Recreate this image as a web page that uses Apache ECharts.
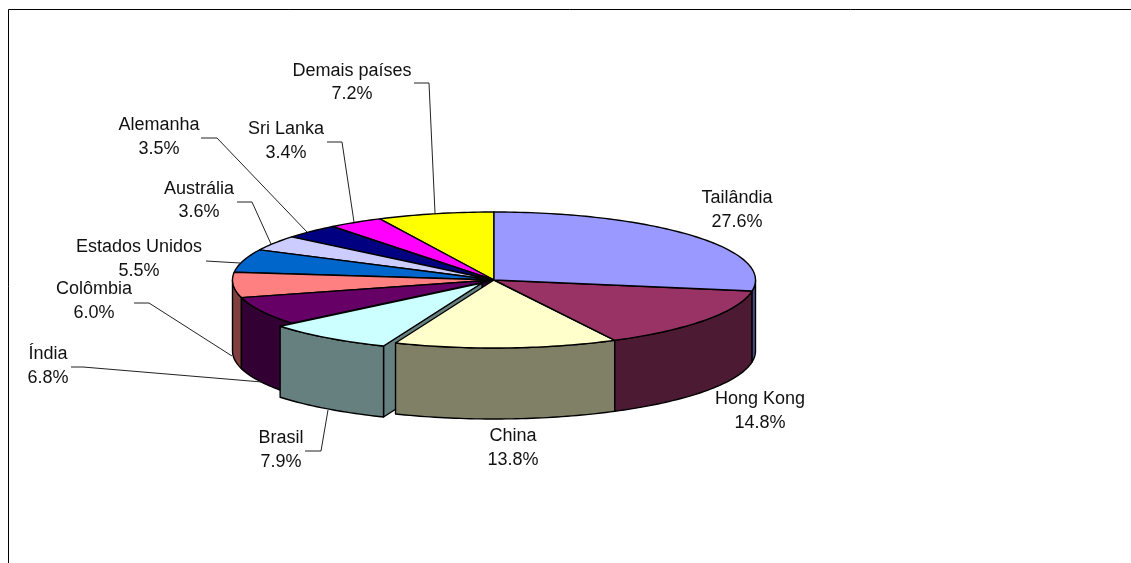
<!DOCTYPE html>
<html>
<head>
<meta charset="utf-8">
<title>Pie</title>
<script src="https://cdn.jsdelivr.net/npm/echarts@6/dist/echarts.min.js"></script>
<style>
html, body { margin: 0; padding: 0; background: #fff; }
#main { width: 1131px; height: 563px; }
</style>
</head>
<body>
<div id="main"></div>
<script>
var countries = ['Tailândia', 'Hong Kong', 'China', 'Brasil', 'Índia', 'Colômbia', 'Estados Unidos', 'Austrália', 'Alemanha', 'Sri Lanka', 'Demais países'];
var shares = [27.6, 14.8, 13.8, 7.9, 6.8, 6.0, 5.5, 3.6, 3.5, 3.4, 7.2];
var topColors = ['#9999FF', '#993366', '#FFFFCC', '#CCFFFF', '#660066', '#FF8080', '#0066CC', '#CCCCFF', '#000080', '#FF00FF', '#FFFF00'];
var wallColors = ['#4D4D80', '#4D1A33', '#808066', '#668080', '#330033', '#804040', '#003366', '#666680', '#000040', '#800080', '#808000'];

// pie geometry
var cx = 494, cy = 280, rx = 261.5, ry = 68, depth = 71;
var explodedIdx = 3, explodeX = -12, explodeY = 3;
// back slices first, exploded one before its front neighbours
var drawOrder = [10, 9, 8, 7, 6, 5, 4, 3, 2, 1, 0];

// label centre x, first line y, second line y
var labelPos = [
	[737, 198, 222], [760, 399, 423], [513, 436, 460], [281, 438, 462],
	[48, 354, 378], [94, 289, 313], [139, 247, 271], [199, 189, 212],
	[159, 125, 149], [286, 129, 153], [352, 71, 94]
];
var leaders = [
	null, null, null,
	[[305, 451], [321, 451], [328, 410]],
	[[71, 367], [83, 367], [262, 382]],
	[[134, 303], [149, 303], [232, 356]],
	[[206, 261], [240, 263]],
	[[237, 202], [252, 202], [271, 244]],
	[[201, 138], [217, 138], [307, 232]],
	[[327, 142], [342, 142], [354, 222]],
	[[414, 83], [429, 83], [435, 213]]
];

var total = 0;
for (var i = 0; i < shares.length; i++) total += shares[i];

var startT = [], cum = 0;
for (var i = 0; i < shares.length; i++) {
	startT.push(cum / total * Math.PI * 2);
	cum += shares[i];
}

function pt(t, ox, oy) {
	return [cx + ox + rx * Math.sin(t), cy + oy - ry * Math.cos(t)];
}

function arcPoints(t1, t2, ox, oy, dy) {
	var pts = [];
	var n = Math.max(2, Math.ceil((t2 - t1) / 0.02));
	for (var k = 0; k <= n; k++) {
		var p = pt(t1 + (t2 - t1) * k / n, ox, oy);
		pts.push([p[0], p[1] + dy]);
	}
	return pts;
}

function poly(points, fill) {
	return {
		type: 'polygon',
		shape: { points: points },
		style: { fill: fill, stroke: '#000', lineWidth: 1.4, lineJoin: 'round' }
	};
}

function renderSlice(params, api) {
	var idx = api.value(0);
	var t1 = startT[idx];
	var t2 = t1 + api.value(1) / total * Math.PI * 2;
	var ox = idx === explodedIdx ? explodeX : 0;
	var oy = idx === explodedIdx ? explodeY : 0;
	var children = [];
	var apex = [cx + ox, cy + oy];
	var front1 = Math.PI / 2, front2 = Math.PI * 1.5;

	// cut faces only show around the exploded slice
	if (idx === explodedIdx || idx === explodedIdx + 1) {
		var c1 = pt(t1, ox, oy);
		children.push(poly([apex, c1, [c1[0], c1[1] + depth], [apex[0], apex[1] + depth]], wallColors[idx]));
	}
	// outer wall, only the front half of the rim
	var w1 = Math.max(t1, front1), w2 = Math.min(t2, front2);
	if (w2 > w1) {
		var upper = arcPoints(w1, w2, ox, oy, 0);
		var lower = arcPoints(w1, w2, ox, oy, depth).reverse();
		children.push(poly(upper.concat(lower), wallColors[idx]));
	}
	// top face
	children.push(poly([apex].concat(arcPoints(t1, t2, ox, oy, 0)), topColors[idx]));
	return { type: 'group', children: children };
}

var sliceData = [];
for (var i = 0; i < drawOrder.length; i++) {
	sliceData.push([drawOrder[i], shares[drawOrder[i]]]);
}

function renderLabel(params, api) {
	var idx = api.value(0);
	var p = labelPos[idx];
	var children = [];
	if (leaders[idx]) {
		children.push({
			type: 'polyline',
			shape: { points: leaders[idx] },
			style: { fill: null, stroke: '#222', lineWidth: 1 }
		});
	}
	var lines = [countries[idx], api.value(1).toFixed(1) + '%'];
	for (var k = 0; k < 2; k++) {
		children.push({
			type: 'text',
			x: p[0],
			y: p[k + 1],
			style: {
				text: lines[k],
				fill: '#111',
				font: '18px "Liberation Sans", Arial, sans-serif',
				align: 'center',
				verticalAlign: 'middle'
			}
		});
	}
	return { type: 'group', children: children };
}

var labelData = [];
for (var i = 0; i < shares.length; i++) labelData.push([i, shares[i]]);

var myChart = echarts.init(document.getElementById('main'), null, { renderer: 'canvas' });
var option = {
	backgroundColor: '#fff',
	animation: false,
	graphic: [{
		type: 'polyline',
		shape: { points: [[8.5, 563], [8.5, 9.5], [1131, 9.5]] },
		style: { fill: null, stroke: '#000', lineWidth: 1 }
	}],
	series: [
		{ type: 'custom', coordinateSystem: 'none', silent: true, renderItem: renderSlice, data: sliceData },
		{ type: 'custom', coordinateSystem: 'none', silent: true, renderItem: renderLabel, data: labelData }
	]
};
myChart.setOption(option);
</script>
</body>
</html>
